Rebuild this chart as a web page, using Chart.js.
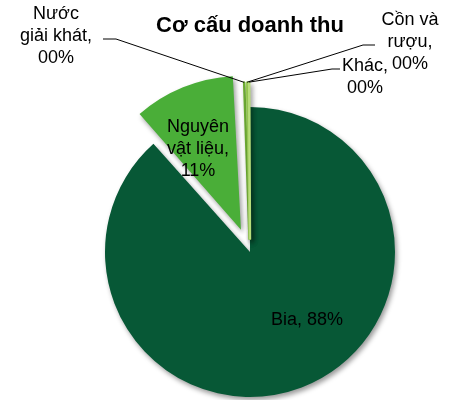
<!DOCTYPE html>
<html>
<head>
<meta charset="utf-8">
<script src="https://cdn.jsdelivr.net/npm/chart.js@4.4.1/dist/chart.umd.min.js"></script>
<style>
  html, body { margin: 0; padding: 0; background: #fff; }
  #wrap { width: 459px; height: 400px; position: relative; }
</style>
</head>
<body>
<div id="wrap"><canvas id="chart"></canvas></div>
<script>
const chartTitle = 'Cơ cấu doanh thu';
const categories = ['Bia', 'Nguyên vật liệu', 'Nước giải khát', 'Cồn và rượu', 'Khác'];
const shares = [88.4, 10.9, 0.3, 0.25, 0.15];
const labelLines = [
  ['Bia, 88%'],
  ['Nguyên', 'vật liệu,', '11%'],
  ['Nước', 'giải khát,', '00%'],
  ['Cồn và', 'rượu,', '00%'],
  ['Khác,', '00%']
];
const colors = ['#075836', '#4AAE38', '#6FAE35', '#9BCF55', '#B7DD7A'];

// label placement, relative to the pie centre (first line centre + leader elbows)
const labelLayout = [
  { dx: 57, dy: 68 },
  { dx: -52, dy: -125 },
  { dx: -194, dy: -238, leader: [[-147, -213], [-134, -213]] },
  { dx: 160, dy: -232, leader: [[125, -207], [113, -207]] },
  { dx: 115, dy: -186, leader: [[90, -183], [82, -183]] }
];
const LINE_H = 22;
const FONT = '18px "Liberation Sans", Arial, sans-serif';

const shadowPlugin = {
  id: 'shadow',
  beforeDatasetsDraw(chart) {
    const ctx = chart.ctx;
    ctx.save();
    ctx.shadowColor = 'rgba(0,0,0,0.4)';
    ctx.shadowBlur = 5;
    ctx.shadowOffsetX = 2;
    ctx.shadowOffsetY = 3;
  },
  afterDatasetsDraw(chart) {
    chart.ctx.restore();
  }
};

// tip of an (exploded) arc, same maths as ArcElement.draw
function arcTip(arc) {
  const off = (arc.options.offset || 0) / 4;
  const circ = arc.endAngle - arc.startAngle;
  const fix = 1 - Math.sin(Math.min(Math.PI, circ));
  const half = (arc.startAngle + arc.endAngle) / 2;
  const r = arc.outerRadius + off + off * fix;
  return [arc.x + Math.cos(half) * r, arc.y + Math.sin(half) * r];
}

const labelPlugin = {
  id: 'pieLabels',
  afterDatasetsDraw(chart) {
    const ctx = chart.ctx;
    const arcs = chart.getDatasetMeta(0).data;
    const cx = arcs[0].x, cy = arcs[0].y;
    ctx.save();
    ctx.strokeStyle = '#000';
    ctx.lineWidth = 1;
    labelLayout.forEach((lay, i) => {
      if (!lay.leader) return;
      const tip = arcTip(arcs[i]);
      ctx.beginPath();
      ctx.moveTo(cx + lay.leader[0][0], cy + lay.leader[0][1]);
      ctx.lineTo(cx + lay.leader[1][0], cy + lay.leader[1][1]);
      ctx.lineTo(tip[0], tip[1]);
      ctx.stroke();
    });
    ctx.fillStyle = '#000';
    ctx.font = FONT;
    ctx.textAlign = 'center';
    ctx.textBaseline = 'middle';
    labelLayout.forEach((lay, i) => {
      labelLines[i].forEach((t, k) => {
        ctx.fillText(t, cx + lay.dx, cy + lay.dy + k * LINE_H);
      });
    });
    ctx.restore();
  }
};

new Chart(document.getElementById('chart'), {
  type: 'pie',
  data: {
    labels: categories,
    datasets: [{
      data: shares,
      backgroundColor: colors,
      // tiny slices get shrunk to nothing when exploded, so give them a matching border
      borderColor: colors,
      borderWidth: [0, 0, 2.5, 2.5, 2.5],
      offset: [0, 96, 50, 50, 50],
      clip: false
    }]
  },
  options: {
    responsive: true,
    maintainAspectRatio: false,
    animation: false,
    radius: 145,
    layout: { padding: { left: 41, right: 0, top: 0, bottom: 0 } },
    plugins: {
      legend: { display: false },
      tooltip: { enabled: false },
      title: {
        display: true,
        text: chartTitle,
        color: '#000',
        font: { family: '"Liberation Sans", Arial, sans-serif', size: 22, weight: 'bold' },
        padding: { top: 13, bottom: 64.6 }
      }
    }
  },
  plugins: [shadowPlugin, labelPlugin]
});
</script>
</body>
</html>
